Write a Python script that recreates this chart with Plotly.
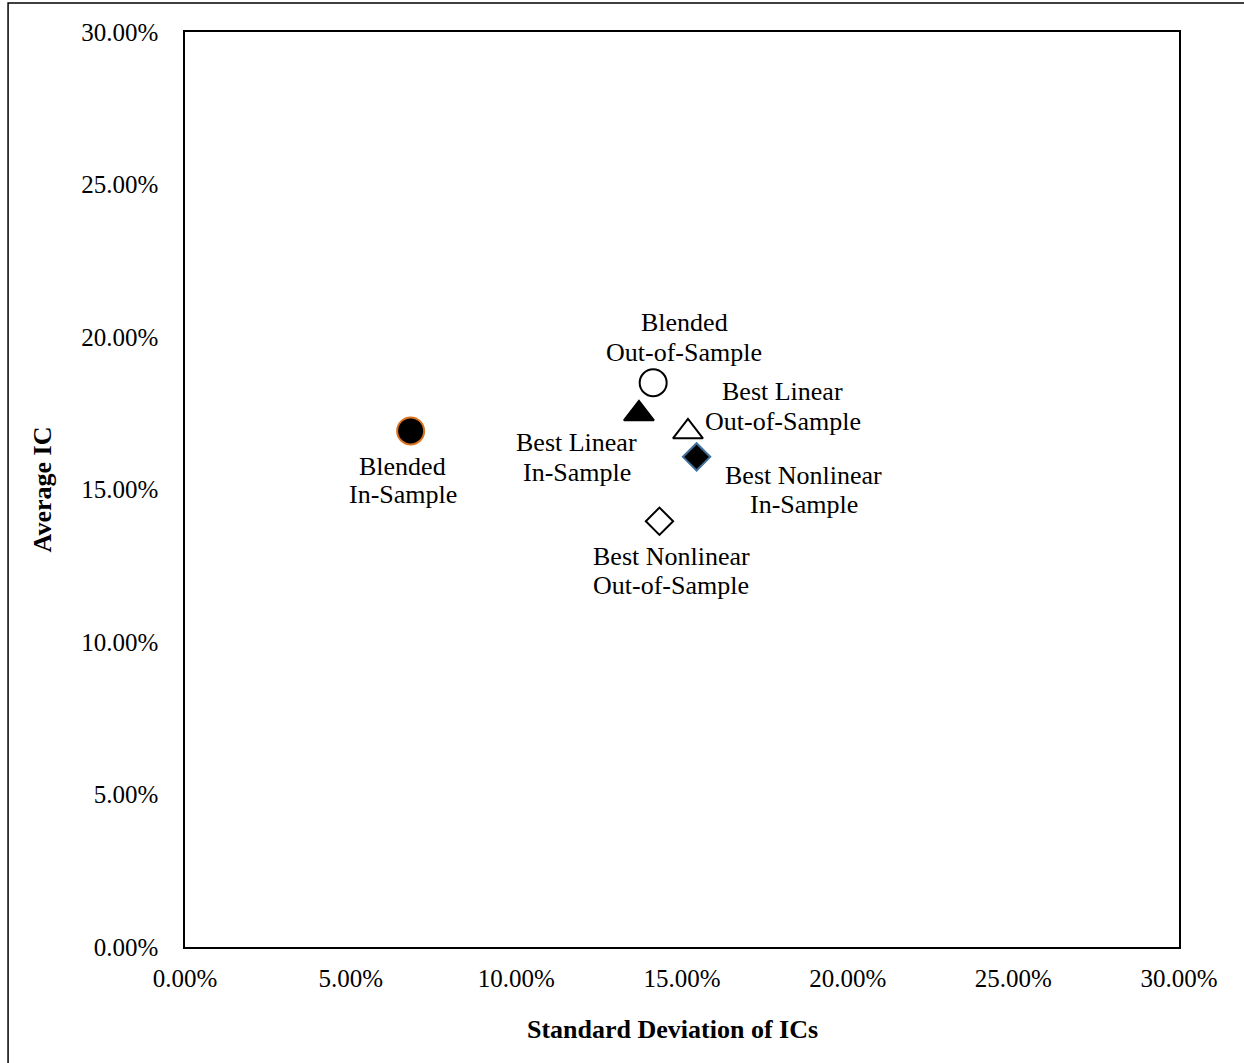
import plotly.graph_objects as go

# ---- data (fractions) ----
names = ["Blended In-Sample", "Blended Out-of-Sample", "Best Linear In-Sample",
         "Best Linear Out-of-Sample", "Best Nonlinear In-Sample", "Best Nonlinear Out-of-Sample"]
std_dev = [0.0681, 0.1413, 0.1370, 0.1518, 0.1544, 0.1432]
avg_ic = [0.1692, 0.1850, 0.1748, 0.1689, 0.1607, 0.1396]
label_lines = [["Blended", "In-Sample"], ["Blended", "Out-of-Sample"],
               ["Best Linear", "In-Sample"], ["Best Linear", "Out-of-Sample"],
               ["Best Nonlinear", "In-Sample"], ["Best Nonlinear", "Out-of-Sample"]]
tick_vals = [0, 0.05, 0.10, 0.15, 0.20, 0.25, 0.30]

# ---- styles ----
symbols = ["circle", "circle", "triangle-up", "triangle-up", "diamond", "diamond"]
fills = ["black", "white", "black", "white", "black", "white"]
edges = ["#D9731F", "black", "black", "black", "#41719C", "black"]
sizes = [27, 27, 26, 26, 21, 21]
# label offsets in pixels (dx, dy line1, dy line2) -- screen down positive
offsets = [(-8, 36, 64), (31, -60, -30), (-62, 29, 59),
           (95, -40, -10), (107, 19, 48), (12, 35, 64)]

FONT = "Liberation Serif, Times New Roman, serif"

fig = go.Figure()
for i in range(len(names)):
    fig.add_trace(go.Scatter(
        x=[std_dev[i]], y=[avg_ic[i]], mode="markers", name=names[i],
        marker=dict(symbol=symbols[i], size=sizes[i], color=fills[i],
                    line=dict(color=edges[i], width=2)),
        showlegend=False, hoverinfo="skip"))
    dx, d1, d2 = offsets[i]
    for line, dy in zip(label_lines[i], (d1, d2)):
        fig.add_annotation(x=std_dev[i], y=avg_ic[i], text=line, showarrow=False,
                           xshift=dx, yshift=-dy, xanchor="center", yanchor="middle",
                           font=dict(family=FONT, size=26, color="black"))

axis_common = dict(range=[0, 0.30], tickvals=tick_vals, tickformat=".2%",
                   showgrid=False, zeroline=False, showline=True, linecolor="black",
                   linewidth=1.5, mirror=True, ticks="",
                   tickfont=dict(family=FONT, size=25, color="black"))
fig.update_xaxes(**axis_common, ticklabelstandoff=8)
fig.update_yaxes(**axis_common, ticklabelstandoff=20)

# axis titles
fig.add_annotation(xref="paper", yref="paper", x=0.490, y=-0.0907,
                   text="<b>Standard Deviation of ICs</b>", showarrow=False,
                   xanchor="center", yanchor="middle",
                   font=dict(family=FONT, size=26, color="black"))
fig.add_annotation(xref="paper", yref="paper", x=-0.1429, y=0.5,
                   text="<b>Average IC</b>", showarrow=False, textangle=-90,
                   xanchor="center", yanchor="middle",
                   font=dict(family=FONT, size=26, color="black"))

# outer chart frame
fig.add_shape(type="rect", xref="paper", yref="paper",
              x0=-0.178, x1=1.08, y0=-0.14, y1=1.0317,
              line=dict(color="black", width=1.5), layer="below")

fig.update_layout(width=1244, height=1063,
                  margin=dict(l=185, r=65, t=32, b=116),
                  plot_bgcolor="white", paper_bgcolor="white")

fig.write_html("out.html", config={"displayModeBar": False},
               post_script="document.body.style.margin='0px';document.body.style.overflow='hidden';")
